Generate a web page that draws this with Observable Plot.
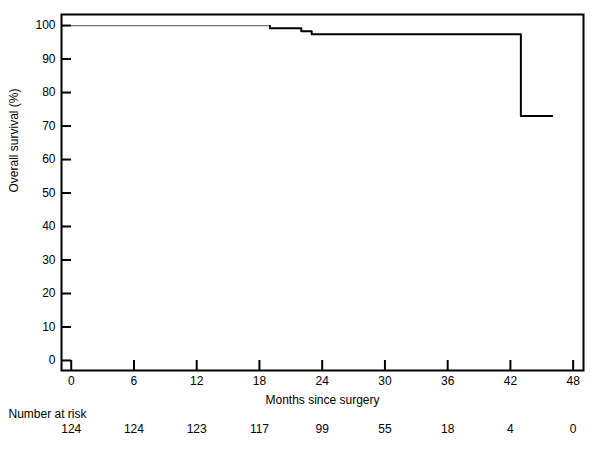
<!DOCTYPE html>
<html>
<head>
<meta charset="utf-8">
<script src="https://cdn.jsdelivr.net/npm/d3@7"></script>
<script src="https://cdn.jsdelivr.net/npm/@observablehq/plot@0.6"></script>
<style>
  html, body { margin: 0; padding: 0; background: #fff; }
</style>
</head>
<body>
<div id="chart"></div>
<script>
// Kaplan–Meier step points (months, survival %)
const months = [0, 19, 22, 23, 43, 46];
const survival = [100, 99.2, 98.3, 97.4, 73.0, 73.0];
// Axis ticks
const xTicks = [0, 6, 12, 18, 24, 30, 36, 42, 48];
const yTicks = [0, 10, 20, 30, 40, 50, 60, 70, 80, 90, 100];
// Number at risk at each x tick
const atRisk = [124, 124, 123, 117, 99, 55, 18, 4, 0];

const curve = months.map((m, i) => ({month: m, surv: survival[i]}));
// first flat stretch (drawn thin/grey as in the original)
const firstStep = [{month: months[0], surv: survival[0]}, {month: months[1], surv: survival[0]}];

const chart = Plot.plot({
  width: 600,
  height: 450,
  marginLeft: 61,
  marginRight: 17,
  marginTop: 14,
  marginBottom: 80,
  style: {fontFamily: "'Liberation Sans', Arial, sans-serif", fontSize: "12px", color: "#000", background: "#fff"},
  x: {domain: [-0.93, 48.99]},
  y: {domain: [-2.99, 103.3]},
  marks: [
    Plot.frame({stroke: "#000", strokeWidth: 2}),
    // inward ticks
    Plot.axisY(yTicks, {tickSize: -10, strokeWidth: 2, text: null, label: null}),
    Plot.axisY(yTicks, {tickSize: 0, tickPadding: 6, label: null, fontSize: 12}),
    Plot.axisX(xTicks, {tickSize: -10, strokeWidth: 2, text: null, label: null}),
    Plot.axisX(xTicks, {tickSize: 0, tickPadding: 6, label: null, fontSize: 12}),
    // survival curve
    Plot.line(firstStep, {x: "month", y: "surv", stroke: "#777", strokeWidth: 1.2}),
    Plot.ruleX([months[1]], {y1: survival[0], y2: survival[1], stroke: "#000", strokeWidth: 2}),
    Plot.line(curve.slice(1), {x: "month", y: "surv", curve: "step-after", stroke: "#000", strokeWidth: 2}),
    // axis titles
    Plot.text(["Overall survival (%)"], {frameAnchor: "left", dx: -47, rotate: -90, text: d => d, fontSize: 12}),
    Plot.text(["Months since surgery"], {frameAnchor: "bottom", dy: 33, text: d => d, fontSize: 12}),
    Plot.text(["Number at risk"], {frameAnchor: "bottom-left", dx: -53, dy: 47, textAnchor: "start", text: d => d, fontSize: 12}),
    Plot.text(xTicks, {x: d => d, text: (d, i) => String(atRisk[i]), frameAnchor: "bottom", dy: 62, fontSize: 12})
  ]
});
document.getElementById("chart").appendChild(chart);
</script>
</body>
</html>
